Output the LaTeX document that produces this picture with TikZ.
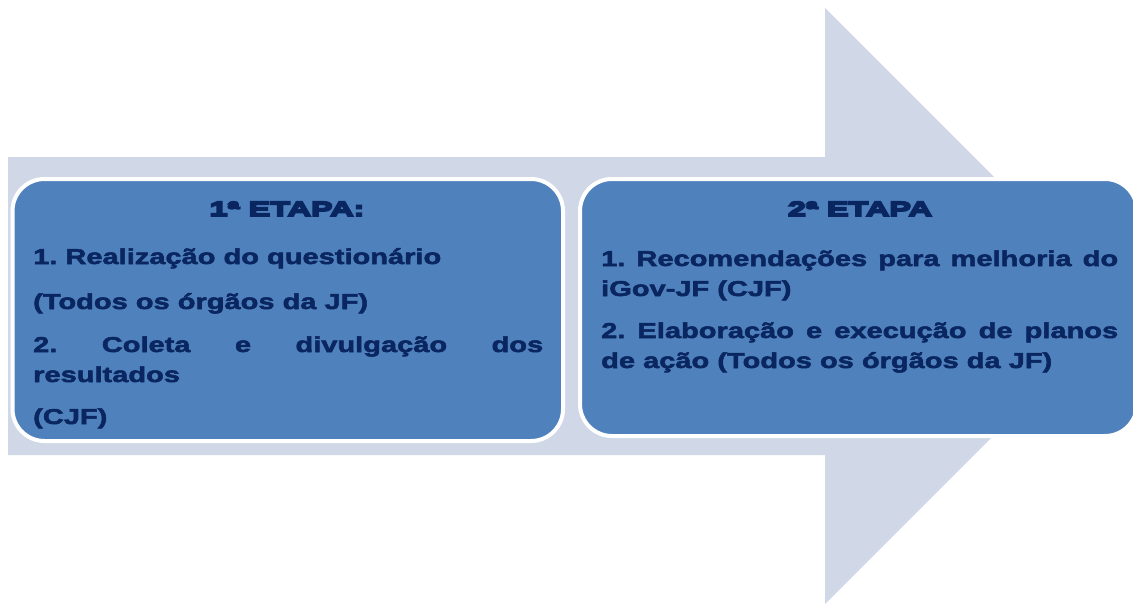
\documentclass[tikz,border=0pt]{standalone}
\usepackage{fontspec}
\setmainfont{Liberation Sans}
\newfontfamily\bodyfont[FakeStretch=1.35,FakeBold=2.5]{Liberation Sans Bold}
\newfontfamily\headfont[FakeStretch=1.58,FakeBold=9]{Liberation Sans Bold}
\definecolor{arrowfill}{HTML}{D0D8E8}
\definecolor{boxfill}{HTML}{4F81BD}
\definecolor{navy}{HTML}{0A2660}
\tikzset{
  stagebox/.style={fill=boxfill,draw=white,line width=4pt,rounded corners=32pt},
  headtxt/.style={anchor=base,inner sep=0pt,text=navy,font=\headfont\fontsize{20.5}{26}\selectfont},
  bodytxt/.style={anchor=base west,inner sep=0pt,text=navy,align=justify,
    font=\bodyfont\fontsize{21.5}{30}\selectfont\frenchspacing},
}
\begin{document}
\begin{tikzpicture}[x=1pt,y=-1pt]
\clip (0,0) rectangle (1133,603);
\fill[arrowfill] (8,157) -- (825,157) -- (825,8) -- (1123,306) -- (825,604) -- (825,455) -- (8,455) -- cycle;
\draw[stagebox] (12.5,179) rectangle (563,441);
\draw[stagebox] (580,179) rectangle (1137,436);
\node[headtxt] (h1) at (287,216) {1ª ETAPA:};
\node[bodytxt,text width=510pt] (a1) at (33,264) {1. Realização do questionário};
\node[bodytxt,text width=510pt] (a2) at (33,309) {(Todos os órgãos da JF)};
\node[bodytxt,text width=510pt] (a3) at (33,352) {2. Coleta e divulgação dos\linebreak resultados};
\node[bodytxt,text width=510pt] (a4) at (33,424) {(CJF)};
\node[headtxt] (h2) at (860,216) {2ª ETAPA};
\node[bodytxt,text width=517pt] (b1) at (601,266) {1. Recomendações para melhoria do\linebreak iGov-JF (CJF)};
\node[bodytxt,text width=517pt] (b2) at (601,338) {2. Elaboração e execução de planos\linebreak de ação (Todos os órgãos da JF)};
\end{tikzpicture}
\end{document}
